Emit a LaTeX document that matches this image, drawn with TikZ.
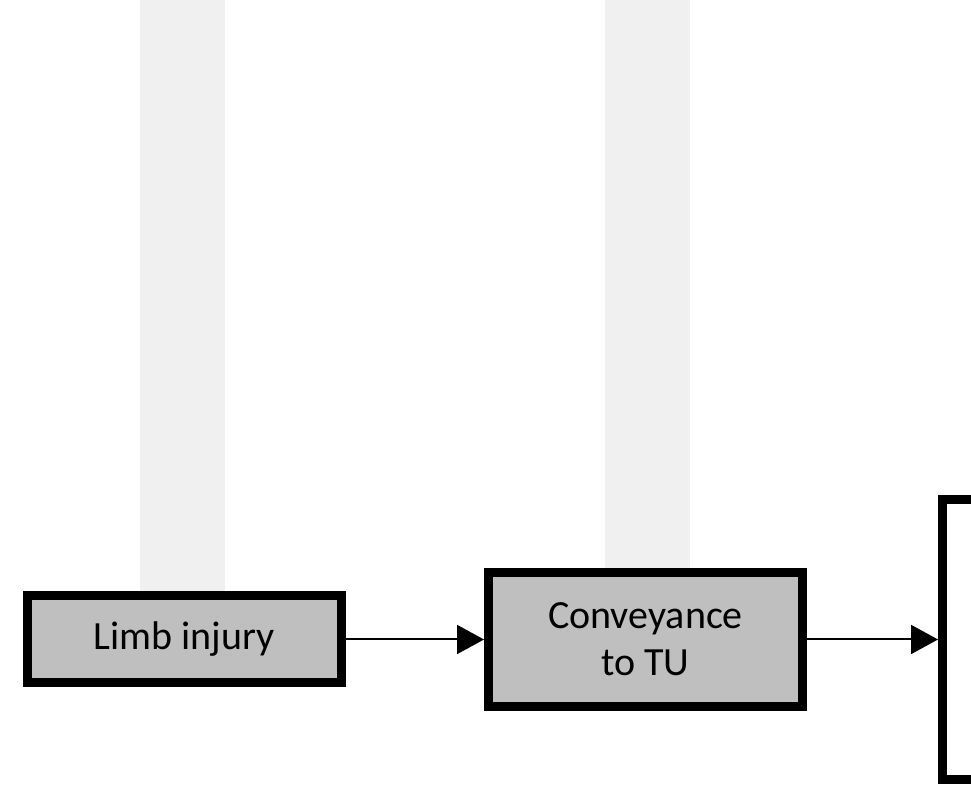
\documentclass[tikz,border=0pt]{standalone}
\usepackage{fontspec}
\setmainfont{Carlito}
\usetikzlibrary{positioning,arrows.meta}
\definecolor{boxgray}{RGB}{191,191,191}
\definecolor{lanegray}{RGB}{240,240,240}

\begin{document}
\begin{tikzpicture}[x=1pt,y=1pt,
  stage/.style={draw=black, line width=9pt, fill=boxgray, minimum width=314pt,
    minimum height=87pt, align=center, font=\fontsize{40}{47}\selectfont},
  flow/.style={line width=2pt, -{Triangle[length=27pt,width=29pt]}}]
\useasboundingbox (0,0) rectangle (971,786);
\clip (0,0) rectangle (971,786);
\fill[lanegray] (140,140) rectangle (225,786);
\fill[lanegray] (605,140) rectangle (690,786);
\node[stage] (injury) at (184,146.5) {Limb injury};
\node[stage, minimum height=134pt, right=138.5pt of injury] (conveyance) {Conveyance\\to TU};
\node[stage, fill=white, minimum height=280pt, right=131pt of conveyance] (next) {};
\draw[flow] (injury) -- (conveyance);
\draw[flow] (conveyance) -- (next);
\end{tikzpicture}
\end{document}
